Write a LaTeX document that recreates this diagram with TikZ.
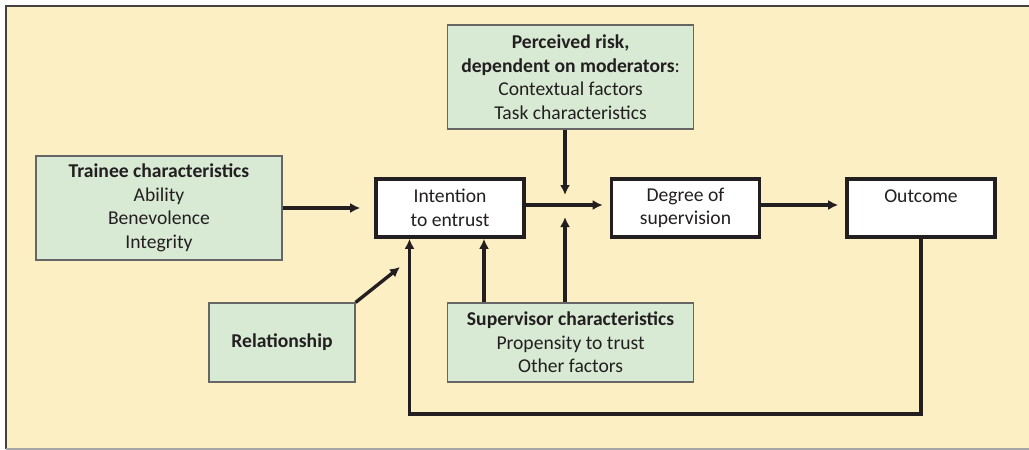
\documentclass[tikz,border=0pt]{standalone}
\usepackage{fontspec}
\setmainfont{Carlito}
\usetikzlibrary{arrows.meta}
\definecolor{cream}{HTML}{FDEFC4}
\definecolor{sage}{HTML}{D8EAD4}
\definecolor{ink}{HTML}{231F20}

\begin{document}
\begin{tikzpicture}[x=0.5pt,y=-0.5pt,
    factor/.style={draw=black!60,line width=0.6pt,fill=sage,align=center,inner sep=0pt},
    stage/.style={draw=ink,line width=1.8pt,fill=white,align=center,inner sep=0pt,
        minimum width=74pt,minimum height=29pt},
    arr/.style={draw=ink,line width=1.7pt,-{Latex[length=5pt,width=5pt]}},
    font=\fontsize{9.8}{11.75}\selectfont, text=ink]
    % frame and background
    \useasboundingbox (0,0) rectangle (1029,450);
    \fill[cream] (5,6) rectangle (1029,449);
    \draw[ink!85,line width=1pt] (1029,6) -- (6,6) -- (6,449);
    \draw[black!35,line width=0.6pt] (6,449) -- (1029,449);

    % influencing factors
    \node[factor,minimum width=123pt,minimum height=52pt] (risk) at (570.6,77)
        {\textbf{Perceived risk,}\\\textbf{dependent on moderators}:\\Contextual factors\\Task characteristics};
    \node[factor,minimum width=123pt,minimum height=52pt] (trainee) at (159,208)
        {\textbf{Trainee characteristics}\\Ability\\Benevolence\\Integrity};
    \node[factor,minimum width=73pt,minimum height=39.5pt] (rel) at (282,342.5)
        {\textbf{Relationship}};
    \node[factor,minimum width=123pt,minimum height=39.5pt] (sup) at (570.6,342.5)
        {\textbf{Supervisor characteristics}\\Propensity to trust\\Other factors};

    % main chain
    \node[stage] (intent) at (450,208) {Intention\\to entrust};
    \node[stage] (degree) at (685.5,208) {Degree of\\supervision};
    \node[stage] (outcome) at (921,208) {Outcome\\\mbox{}};

    \coordinate (mid) at (565,205);
    \coordinate (relTip) at (400,267);
    \coordinate (loop) at (409.5,414);
    \path (sup.north) ++(-86.6,0) coordinate (supL);

    \draw[arr,shorten >=7pt] (trainee) -- (intent);
    \draw[arr,shorten >=3.5pt] ([yshift=1.5pt]intent.east) -- ([yshift=1.5pt]degree.west);
    \draw[arr,shorten >=3.5pt] ([yshift=1.5pt]degree.east) -- ([yshift=1.5pt]outcome.west);
    \draw[arr,shorten >=5pt] (risk.south -| mid) -- (mid);
    \draw[arr,shorten >=6pt] (sup.north -| mid) -- (mid);
    \draw[arr] (supL) -- (supL |- intent.south);
    \draw[arr] (rel.north east) -- (relTip);
    % feedback from outcome
    \draw[arr] (outcome.south) |- (loop) -- (loop |- intent.south);
\end{tikzpicture}
\end{document}
